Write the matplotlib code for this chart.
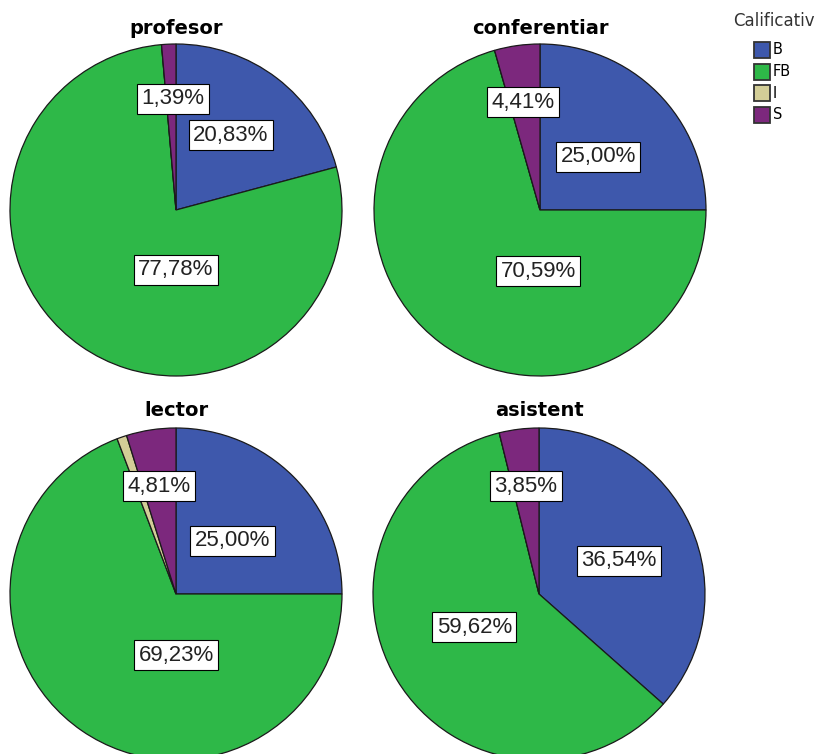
import matplotlib
matplotlib.use('Agg')
import matplotlib.pyplot as plt
from matplotlib.patches import Rectangle

# data
categories = ['B', 'FB', 'I', 'S']
groups = ['profesor', 'conferentiar', 'lector', 'asistent']
profesor = [20.83, 77.78, 0.0, 1.39]
conferentiar = [25.00, 70.59, 0.0, 4.41]
lector = [25.00, 69.23, 0.96, 4.81]
asistent = [36.54, 59.62, 0.0, 3.85]
values = [profesor, conferentiar, lector, asistent]

colors = ['#3e58ac', '#2eb848', '#d3ce97', '#7c287d']
edge = '#1a1a1a'

# layout (pixels, y measured from top)
W, H = 819, 754
centers = [(176, 210), (540, 210), (176, 594), (539, 594)]
R = 166
title_y = [28, 28, 411, 411]
# label offsets in radius units (dx, dy up), per category, None = no label
label_pos = [
    [(0.33, 0.45), (0.0, -0.36), None, (-0.02, 0.67)],
    [(0.35, 0.32), (-0.01, -0.37), None, (-0.10, 0.65)],
    [(0.34, 0.32), (0.0, -0.37), None, (-0.10, 0.65)],
    [(0.48, 0.20), (-0.39, -0.20), None, (-0.08, 0.65)],
]

fig = plt.figure(figsize=(W / 100, H / 100), dpi=100)
ax = fig.add_axes([0, 0, 1, 1])

for k, (name, vals) in enumerate(zip(groups, values)):
    cx, cy = centers[k]
    cy = H - cy
    ax.pie(vals, colors=colors, startangle=90, counterclock=False,
           center=(cx, cy), radius=R, frame=True,
           wedgeprops=dict(edgecolor=edge, linewidth=0.9))
    ax.text(cx, H - title_y[k], name, ha='center', va='center',
            fontsize=14, fontweight='bold', color='black')
    for v, pos in zip(vals, label_pos[k]):
        if pos is None or v == 0:
            continue
        txt = f'{v:.2f}%'.replace('.', ',')
        ax.text(cx + pos[0] * R, cy + pos[1] * R, txt, ha='center', va='center',
                fontsize=16, family='Liberation Sans', color='#222222',
                bbox=dict(boxstyle='square,pad=0.2', facecolor='white',
                          edgecolor='black', linewidth=0.8))

ax.set_xlim(0, W)
ax.set_ylim(0, H)
ax.set_aspect('equal')
ax.axis('off')

# legend
ax.text(733, H - 21, 'Calificativ', ha='left', va='center', fontsize=12, color='#333333')
for i, (cat, c) in enumerate(zip(categories, colors)):
    y = H - (50 + i * 21.5)
    ax.add_patch(Rectangle((754, y - 8), 16, 16, facecolor=c, edgecolor='#333333', linewidth=1.3))
    ax.text(773, y, cat, ha='left', va='center', fontsize=10.5, color='black')

fig.savefig('out.png', dpi=100)
